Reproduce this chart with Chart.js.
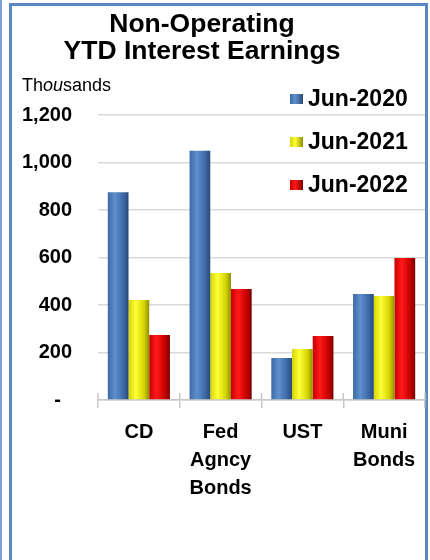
<!DOCTYPE html>
<html>
<head>
<meta charset="utf-8">
<script src="https://cdn.jsdelivr.net/npm/chart.js@4.4.0/dist/chart.umd.min.js"></script>
<style>
  html, body { margin: 0; padding: 0; background: #fff; }
  body { width: 430px; height: 560px; position: relative; overflow: hidden; font-family: 'Liberation Sans', Arial, sans-serif; }
  #wrap { position: absolute; left: 0; top: 0; width: 430px; height: 560px; }
  .edge { position: absolute; left: 0; top: 0; width: 2px; height: 560px; background: #7aa2d4; }
  .frame { position: absolute; left: 9px; top: 3px; width: 413px; height: 570px; border: 3px solid #5a88c4; border-bottom: none; }
  .title { position: absolute; left: 0; top: 10px; width: 404px; text-align: center; font-weight: bold; font-size: 26.5px; line-height: 27px; color: #000; }
  .units { position: absolute; left: 22px; top: 76px; font-size: 18px; line-height: 18px; color: #000; }
  #legend { position: absolute; left: 290px; top: 87px; }
  .item { display: flex; align-items: center; height: 23px; margin-bottom: 20px; font-weight: bold; font-size: 23px; line-height: 23px; color: #000; }
  .box { width: 13px; height: 10px; margin-right: 5px; }
</style>
</head>
<body>
<div class="edge"></div>
<div class="frame"></div>
<div id="wrap"><canvas id="chart" width="430" height="560"></canvas></div>
<div class="title">Non-Operating<br>YTD Interest Earnings</div>
<div class="units">Th<i>ou</i>sands</div>
<div id="legend"></div>
<script>
const categories = [['CD'], ['Fed', 'Agncy', 'Bonds'], ['UST'], ['Muni', 'Bonds']];
const seriesNames = ['Jun-2020', 'Jun-2021', 'Jun-2022'];
const jun2020 = [875, 1050, 177, 446];
const jun2021 = [421, 535, 215, 438];
const jun2022 = [274, 467, 269, 598];
const yTicks = [0, 200, 400, 600, 800, 1000, 1200];

// left edge, highlight, dark edge
const shades = [
  ['#3d6aa5', '#5f8fcd', '#274a7a'],
  ['#d4d400', '#ffff3a', '#8f8f00'],
  ['#c80000', '#ff1a1a', '#7a0000'],
];
const catPct = 0.76;

const bevel = (i) => (ctx) => {
  const [a, b, c] = shades[i];
  if (ctx.type !== 'data') return b;
  const xs = ctx.chart.scales.x;
  if (!xs || !xs.width) return b;
  const gw = (xs.width / categories.length) * catPct;
  const bw = gw / seriesNames.length;
  const left = xs.getPixelForValue(ctx.dataIndex) - gw / 2 + ctx.datasetIndex * bw;
  const g = ctx.chart.ctx.createLinearGradient(left, 0, left + bw, 0);
  g.addColorStop(0, a);
  g.addColorStop(0.35, b);
  g.addColorStop(0.75, a);
  g.addColorStop(1, c);
  return g;
};

// excel-style cross ticks: extend the category ticks above the axis too
const crossTicks = {
  id: 'crossTicks',
  afterDraw(chart) {
    const xs = chart.scales.x;
    const { ctx } = chart;
    const step = xs.width / categories.length;
    ctx.save();
    ctx.strokeStyle = '#c8c8c8';
    ctx.lineWidth = 1.5;
    for (let i = 0; i <= categories.length; i++) {
      const x = xs.left + i * step;
      ctx.beginPath();
      ctx.moveTo(x, xs.top - 7);
      ctx.lineTo(x, xs.top);
      ctx.stroke();
    }
    ctx.restore();
  },
};

const legend = document.getElementById('legend');
seriesNames.forEach((name, i) => {
  const [a, b, c] = shades[i];
  legend.innerHTML += `<div class="item"><span class="box" style="background:linear-gradient(90deg,${a},${b} 40%,${c})"></span>${name}</div>`;
});

const values = [jun2020, jun2021, jun2022];

new Chart(document.getElementById('chart'), {
  type: 'bar',
  data: {
    labels: categories,
    datasets: seriesNames.map((label, i) => ({
      label,
      data: values[i],
      backgroundColor: bevel(i),
      borderWidth: 0,
      categoryPercentage: catPct,
      barPercentage: 1,
    })),
  },
  options: {
    responsive: false,
    animation: false,
    layout: { padding: { top: 115, right: 5, bottom: 0, left: 0 } },
    plugins: { legend: { display: false }, tooltip: { enabled: false } },
    scales: {
      x: {
        offset: true,
        grid: { offset: true, drawOnChartArea: false, tickLength: 8, color: '#c8c8c8', lineWidth: 1.5 },
        border: { color: '#c8c8c8', width: 1.5 },
        ticks: {
          color: '#000',
          padding: 10,
          maxRotation: 0,
          autoSkip: false,
          font: { family: "'Liberation Sans', Arial, sans-serif", size: 20, weight: 'bold', lineHeight: '28px' },
        },
        afterFit: (s) => { s.height = 160; },
      },
      y: {
        min: 0,
        max: 1200,
        afterBuildTicks: (s) => { s.ticks = yTicks.map((value) => ({ value })); },
        grid: { drawTicks: false, color: '#d9d9d9', lineWidth: 1.5 },
        border: { display: false },
        ticks: {
          color: '#000',
          padding: 26,
          font: { family: "'Liberation Sans', Arial, sans-serif", size: 20, weight: 'bold' },
          callback: (v) => (v === 0 ? '-  ' : v.toLocaleString('en-US')),
        },
        afterFit: (s) => { s.width = 98; },
      },
    },
  },
  plugins: [crossTicks],
});
</script>
</body>
</html>
